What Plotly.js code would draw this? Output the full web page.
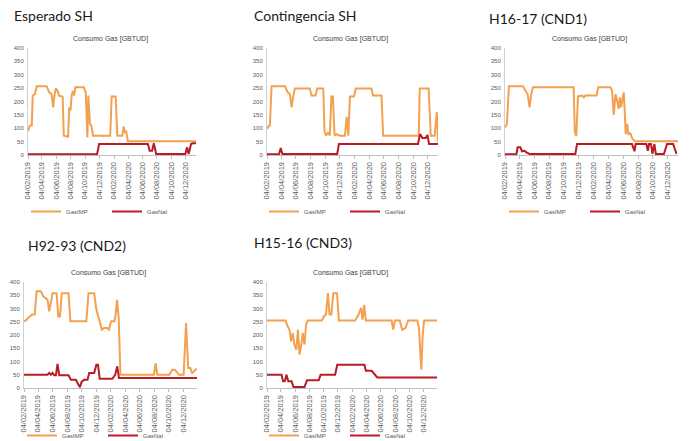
<!DOCTYPE html>
<html>
<head>
<meta charset="utf-8">
<script src="https://cdn.plot.ly/plotly-3.0.1.min.js"></script>
<style>
html,body{margin:0;padding:0;background:#fff;}
#chart{width:691px;height:441px;}
</style>
</head>
<body>
<div id="chart"></div>
<script>
// ---------- Data ----------
var panelTitles = ["Esperado SH", "Contingencia SH", "H16-17 (CND1)", "H92-93 (CND2)", "H15-16 (CND3)"];
var chartTitle = "Consumo Gas [GBTUD]";
var seriesNames = ["GasIMP", "GasNal"];
var tickDates = ["2019-02-04","2019-04-04","2019-06-04","2019-08-04","2019-10-04","2019-12-04",
                 "2020-02-04","2020-04-04","2020-06-04","2020-08-04","2020-10-04","2020-12-04"];
var tickLabels = ["04/02/2019","04/04/2019","04/06/2019","04/08/2019","04/10/2019","04/12/2019",
                  "04/02/2020","04/04/2020","04/06/2020","04/08/2020","04/10/2020","04/12/2020"];

// Esperado SH
var espImpDates = ["2019-02-04","2019-02-12","2019-02-20","2019-02-24","2019-03-06","2019-03-13","2019-04-24","2019-05-05","2019-05-15","2019-05-22","2019-05-26","2019-06-02","2019-06-09","2019-06-16","2019-07-01","2019-07-06","2019-07-24","2019-07-29","2019-08-03","2019-08-09","2019-08-15","2019-08-19","2019-08-24","2019-09-29","2019-10-07","2019-10-14","2019-10-18","2019-10-25","2019-10-31","2019-11-07","2020-01-19","2020-01-25","2020-02-11","2020-02-18","2020-03-10","2020-03-16","2020-03-21","2020-03-27","2020-04-03","2021-01-17"];
var espImp = [90,110,110,222,228,257,257,234,228,178,215,249,240,222,218,72,68,178,166,228,240,222,253,253,234,66,222,116,110,72,72,219,219,72,72,106,85,88,51,51];
var espNalDates = ["2019-02-04","2019-11-24","2019-12-03","2020-06-27","2020-07-04","2020-07-15","2020-07-22","2020-08-01","2020-12-03","2020-12-10","2020-12-17","2020-12-27","2021-01-03","2021-01-17"];
var espNal = [3,3,41,41,16,16,44,4,4,29,4,41,44,44];

// Contingencia SH
var conImpDates = ["2019-02-04","2019-02-12","2019-02-16","2019-02-23","2019-04-20","2019-05-01","2019-05-10","2019-05-17","2019-05-23","2019-05-31","2019-08-01","2019-08-08","2019-08-25","2019-09-01","2019-09-26","2019-10-01","2019-10-07","2019-10-17","2019-10-23","2019-10-30","2019-11-05","2019-11-12","2019-11-20","2019-12-04","2019-12-25","2020-01-01","2020-01-08","2020-01-15","2020-02-01","2020-02-08","2020-04-13","2020-04-20","2020-05-25","2020-06-01","2020-10-27","2020-10-31","2020-12-07","2020-12-16","2021-01-01","2021-01-10","2021-01-15"];
var conImp = [97,110,110,257,257,234,228,178,215,249,249,222,222,249,249,91,72,85,72,219,219,72,78,72,72,143,72,219,219,249,249,222,222,72,72,249,249,72,72,160,50];
var conNalDates = ["2019-02-04","2019-03-26","2019-04-02","2019-04-09","2019-11-23","2019-11-30","2020-10-24","2020-11-01","2020-11-11","2020-11-25","2020-12-02","2020-12-09","2021-01-15"];
var conNal = [3,3,26,4,4,41,41,78,64,64,75,41,41];

// H16-17 (CND1)
var c1ImpDates = ["2019-02-04","2019-02-12","2019-02-20","2019-04-19","2019-04-29","2019-05-08","2019-05-16","2019-05-23","2019-05-30","2019-11-13","2019-11-18","2019-11-24","2019-12-01","2019-12-18","2019-12-25","2019-12-31","2020-02-15","2020-02-22","2020-04-12","2020-04-19","2020-04-26","2020-05-03","2020-05-10","2020-05-16","2020-05-21","2020-05-26","2020-06-02","2020-06-06","2020-06-10","2020-06-14","2020-06-20","2020-06-25","2020-07-03","2020-07-10","2020-07-20","2021-01-15"];
var c1Imp = [103,116,257,257,240,228,178,228,253,253,85,70,219,222,215,222,222,253,253,240,150,228,203,172,215,178,215,234,166,78,116,78,81,64,51,51];
var c1NalDates = ["2019-02-04","2019-03-23","2019-03-28","2019-04-08","2019-04-15","2019-04-25","2019-05-03","2019-05-16","2019-11-20","2019-11-27","2020-07-10","2020-07-20","2020-07-25","2020-09-07","2020-09-13","2020-09-18","2020-09-26","2020-10-02","2020-10-10","2020-10-16","2020-11-18","2020-12-01","2020-12-26","2021-01-02","2021-01-09"];
var c1Nal = [3,3,29,29,14,16,10,4,4,41,41,14,41,41,16,41,41,4,41,4,4,41,41,26,4];

// H92-93 (CND2)
var c2ImpDates = ["2019-02-04","2019-02-12","2019-02-21","2019-03-01","2019-03-10","2019-03-21","2019-03-29","2019-04-16","2019-04-26","2019-05-04","2019-05-14","2019-05-21","2019-05-28","2019-06-04","2019-06-21","2019-06-28","2019-07-05","2019-07-13","2019-08-10","2019-08-18","2019-10-24","2019-11-02","2019-11-26","2019-12-05","2019-12-17","2019-12-28","2020-01-06","2020-01-20","2020-01-27","2020-02-05","2020-02-19","2020-02-24","2020-03-01","2020-03-08","2020-03-15","2020-08-03","2020-08-10","2020-08-17","2020-10-07","2020-10-19","2020-10-30","2020-11-16","2020-12-06","2020-12-16","2020-12-25","2021-01-03","2021-01-10","2021-01-17","2021-01-24","2021-01-31"];
var c2Imp = [252,255,264,270,277,277,365,365,346,340,333,289,327,358,358,270,270,358,358,252,252,358,358,296,258,220,226,226,220,252,252,277,333,264,50,50,94,50,50,69,69,50,50,245,75,75,55,63,69,72];
var c2NalDates = ["2019-02-04","2019-05-14","2019-05-21","2019-05-28","2019-06-04","2019-06-11","2019-06-18","2019-06-25","2019-07-02","2019-08-10","2019-08-20","2019-09-10","2019-09-17","2019-09-27","2019-10-04","2019-10-15","2019-10-29","2019-11-05","2019-11-26","2019-12-05","2019-12-12","2019-12-19","2020-02-10","2020-02-22","2020-03-02","2020-03-09","2021-01-31"];
var c2Nal = [50,50,57,50,57,48,48,91,48,48,31,31,19,3,23,31,31,57,57,88,88,35,35,50,82,38,38];

// H15-16 (CND3)
var c3ImpDates = ["2019-02-04","2019-04-24","2019-05-03","2019-05-11","2019-05-18","2019-05-25","2019-06-01","2019-06-09","2019-06-16","2019-06-23","2019-06-30","2019-07-07","2019-07-14","2019-07-21","2019-07-28","2019-09-27","2019-10-05","2019-10-14","2019-10-22","2019-10-29","2019-11-06","2019-11-14","2019-11-30","2019-12-08","2020-02-15","2020-03-01","2020-03-12","2020-03-18","2020-03-25","2020-04-01","2020-07-20","2020-07-27","2020-08-03","2020-08-24","2020-09-03","2020-09-17","2020-09-29","2020-11-07","2020-11-14","2020-11-24","2020-11-30","2020-12-06","2021-01-30"];
var c3Imp = [255,255,233,220,176,208,164,145,220,126,161,208,164,239,255,255,270,277,358,277,277,358,358,255,255,277,302,258,314,255,255,220,255,255,220,226,255,255,226,69,201,255,255];
var c3NalDates = ["2019-02-04","2019-04-07","2019-04-14","2019-04-21","2019-04-28","2019-05-06","2019-05-20","2019-05-28","2019-07-14","2019-07-25","2019-09-13","2019-09-21","2019-11-22","2019-12-01","2020-03-26","2020-04-01","2020-04-26","2020-05-10","2020-05-20","2021-01-30"];
var c3Nal = [50,50,25,25,50,25,25,4,4,29,29,50,50,88,88,65,65,50,40,40];

// ---------- Build figure ----------
var impDates = [espImpDates, conImpDates, c1ImpDates, c2ImpDates, c3ImpDates];
var impVals  = [espImp, conImp, c1Imp, c2Imp, c3Imp];
var nalDates = [espNalDates, conNalDates, c1NalDates, c2NalDates, c3NalDates];
var nalVals  = [espNal, conNal, c1Nal, c2Nal, c3Nal];
var rangeEnd = ["2021-01-17","2021-01-15","2021-01-15","2021-01-31","2021-01-30"];

var W = 691, H = 441;
// panel geometry in pixels: [plot left, plot right, plot top, plot bottom]
var geo = [
  [28, 196, 48, 155],
  [267, 438, 48, 155],
  [505, 678, 48, 155],
  [24, 197, 282, 388],
  [267, 437, 282, 388]
];
var titlePos = [[12, 16], [252, 15], [487, 18], [26, 245], [252, 243]];
// legend: [left px, top px]
var legendPos = [[26, 197], [264, 197], [504, 197], [22, 421], [264, 421]];

var IMP_COLOR = "#F3A14F";
var NAL_COLOR = "#B81C24";
var FONT = "Liberation Sans, Arial, sans-serif";

var data = [];
var layout = {
  width: W, height: H,
  margin: {l: 0, r: 0, t: 0, b: 0, autoexpand: false},
  paper_bgcolor: "#ffffff",
  plot_bgcolor: "#ffffff",
  font: {family: FONT, color: "#595959"},
  annotations: [],
  showlegend: true
};

for (var i = 0; i < 5; i++) {
  var sfx = i === 0 ? "" : String(i + 1);
  var g = geo[i];
  var leg = i === 0 ? "legend" : "legend" + (i + 1);
  data.push({
    type: "scatter", mode: "lines",
    x: impDates[i], y: impVals[i], name: seriesNames[0],
    xaxis: "x" + sfx, yaxis: "y" + sfx, legend: leg,
    line: {color: IMP_COLOR, width: 2}
  });
  data.push({
    type: "scatter", mode: "lines",
    x: nalDates[i], y: nalVals[i], name: seriesNames[1],
    xaxis: "x" + sfx, yaxis: "y" + sfx, legend: leg,
    line: {color: NAL_COLOR, width: 2}
  });
  layout["xaxis" + sfx] = {
    type: "date",
    domain: [g[0] / W, g[1] / W],
    anchor: "y" + sfx,
    range: ["2019-02-04", rangeEnd[i]],
    tickmode: "array",
    tickvals: tickDates, ticktext: tickLabels,
    tickangle: -90,
    tickfont: {size: 7.5, color: "#595959", family: FONT},
    showgrid: false, zeroline: false,
    showline: true, linecolor: "#bfbfbf", linewidth: 1,
    ticks: "outside", ticklen: 3, tickcolor: "#bfbfbf",
    automargin: false, fixedrange: true
  };
  layout["yaxis" + sfx] = {
    domain: [1 - g[3] / H, 1 - g[2] / H],
    anchor: "x" + sfx,
    range: [0, 400], dtick: 50, tick0: 0,
    tickfont: {size: 6, color: "#595959", family: FONT},
    showgrid: false, zeroline: false,
    showline: true, linecolor: "#d0d0d0", linewidth: 1,
    ticks: "", ticklabelstandoff: 2,
    automargin: false, fixedrange: true
  };
  layout[leg] = {
    orientation: "h",
    x: legendPos[i][0] / W, xanchor: "left",
    y: 1 - legendPos[i][1] / H, yanchor: "top",
    font: {size: 6, color: "#595959", family: FONT},
    bgcolor: "rgba(0,0,0,0)",
    entrywidth: 36, entrywidthmode: "pixels",
    itemwidth: 30, tracegroupgap: 0
  };
  layout.annotations.push({
    text: panelTitles[i], xref: "paper", yref: "paper",
    x: titlePos[i][0] / W, y: 1 - titlePos[i][1] / H,
    xanchor: "left", yanchor: "middle", showarrow: false,
    font: {size: 14, color: "#1a1a1a", family: "Lato, " + FONT}
  });
  layout.annotations.push({
    text: chartTitle, xref: "paper", yref: "paper",
    x: ((g[0] + g[1]) / 2 - 2) / W, y: 1 - (g[2] - 9) / H,
    xanchor: "center", yanchor: "middle", showarrow: false,
    font: {size: 7, color: "#404040", family: FONT}
  });
}

Plotly.newPlot("chart", data, layout, {displayModeBar: false, staticPlot: true});
</script>
</body>
</html>
